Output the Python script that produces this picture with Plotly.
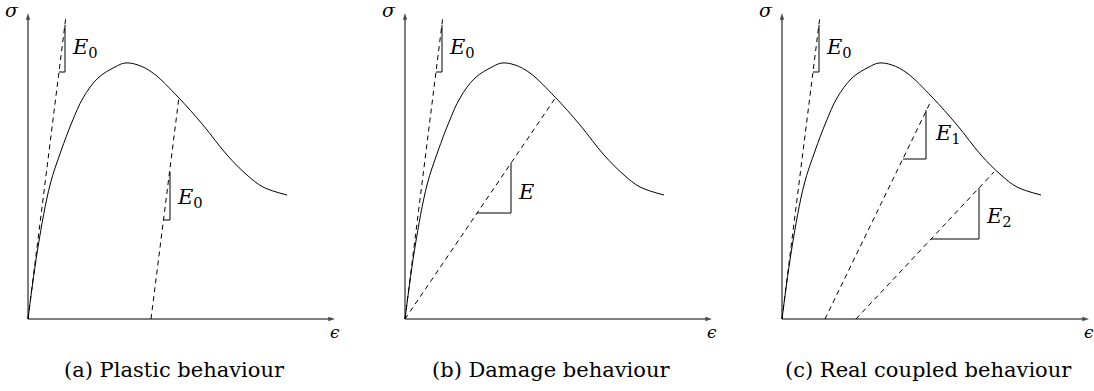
import plotly.graph_objects as go

# Stress-strain envelope (strain, stress) shared by all three panels
curve_eps = [0, 10, 22, 33, 44, 55, 70, 87, 97, 110, 125, 150, 175, 199, 219, 235, 259]
curve_sig = [0, 72, 134, 168, 197, 221, 241, 252, 256, 254, 246, 222, 194, 164, 144, 132, 124]

# Initial elastic slope E0 (same in every panel)
e0_eps = [0, 38]
e0_sig = [0, 303]
e0_tri_eps = [31, 37, 37]
e0_tri_sig = [247, 247, 294]

# (a) plastic unloading
plastic_eps = [123, 151]
plastic_sig = [0, 222]
plastic_tri_eps = [136, 142, 142]
plastic_tri_sig = [99, 99, 147]

# (b) damage unloading
damage_eps = [0, 151]
damage_sig = [0, 222]
damage_tri_eps = [72, 106, 106]
damage_tri_sig = [106, 106, 156]

# (c) coupled unloading
e1_eps = [43, 148]
e1_sig = [0, 216]
e1_tri_eps = [121, 144, 144]
e1_tri_sig = [160, 160, 209]
e2_eps = [74, 212]
e2_sig = [0, 147]
e2_tri_eps = [149, 197, 197]
e2_tri_sig = [80, 80, 131]

captions = ["(a) Plastic behaviour", "(b) Damage behaviour", "(c) Real coupled behaviour"]

AX_LEN_X = 307
AX_LEN_Y = 306
W, H = 1094, 391
FONT = "DejaVu Serif, Liberation Serif, serif"
DASH = "5px,4px"

fig = go.Figure()

panel_left = [0, 377, 754]
panel_w = 340
axes = ["x", "x2", "x3"]


def line(xa, xs, ys, dash=None, shape="linear"):
    fig.add_trace(go.Scatter(
        x=xs, y=ys, xaxis=xa, yaxis="y", mode="lines",
        line=dict(color="black", width=1, dash=dash, shape=shape),
        hoverinfo="skip", showlegend=False))


def arrow(xa, xs, ys):
    fig.add_trace(go.Scatter(
        x=xs, y=ys, xaxis=xa, yaxis="y", mode="lines+markers",
        line=dict(color="black", width=1),
        marker=dict(symbol="arrow", angleref="previous", size=[0, 7],
                    color="black", line=dict(width=0)),
        hoverinfo="skip", showlegend=False))


def label(xa, x, y, text, size=21, anchor="left", style="italic"):
    fig.add_annotation(x=x, y=y, xref=xa, yref="y", text=text, showarrow=False,
                       xanchor=anchor, yanchor="middle", borderpad=0,
                       font=dict(family=FONT, size=size, color="black", style=style))


def modulus(sub):
    # italic E with an upright subscript
    return f"E<sub><span style='font-style:normal'>{sub}</span></sub>"


for i, xa in enumerate(axes):
    # axes with arrow tips
    arrow(xa, [0, AX_LEN_X], [0, 0])
    arrow(xa, [0, 0], [0, AX_LEN_Y])
    label(xa, -8, AX_LEN_Y + 3, "σ", size=19, anchor="right")
    label(xa, AX_LEN_X, -13, "ϵ", size=17, anchor="center")

    line(xa, curve_eps, curve_sig, shape="spline")
    line(xa, e0_eps, e0_sig, DASH)
    line(xa, e0_tri_eps, e0_tri_sig)
    label(xa, 43, 271, modulus("0"))

    label(xa, 146, -51, captions[i], size=21, anchor="center", style="normal")

# (a)
line("x", plastic_eps, plastic_sig, DASH)
line("x", plastic_tri_eps, plastic_tri_sig)
label("x", 148, 121, modulus("0"))

# (b)
line("x2", damage_eps, damage_sig, DASH)
line("x2", damage_tri_eps, damage_tri_sig)
label("x2", 112, 127, "E")

# (c)
line("x3", e1_eps, e1_sig, DASH)
line("x3", e1_tri_eps, e1_tri_sig)
label("x3", 152, 185, modulus("1"))
line("x3", e2_eps, e2_sig, DASH)
line("x3", e2_tri_eps, e2_tri_sig)
label("x3", 203, 102, modulus("2"))

layout = dict(
    width=W, height=H,
    margin=dict(l=0, r=0, t=0, b=0),
    paper_bgcolor="white", plot_bgcolor="white",
    yaxis=dict(range=[-72, 319], visible=False, domain=[0, 1]),
)
for i, xa in enumerate(axes):
    key = "xaxis" if i == 0 else f"xaxis{i + 1}"
    left = panel_left[i]
    layout[key] = dict(range=[-28, 312], visible=False, anchor="y",
                       domain=[left / W, min(1.0, (left + panel_w) / W)])
fig.update_layout(**layout)

fig.write_html("out.html")
